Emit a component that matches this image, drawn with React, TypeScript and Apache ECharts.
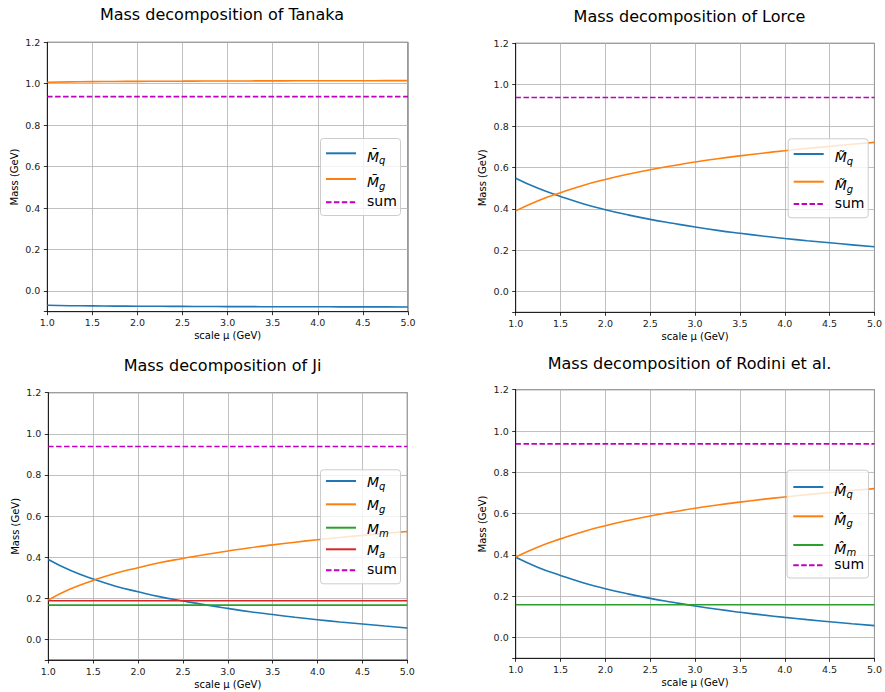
import React, { useEffect, useRef } from 'react';
import * as echarts from 'echarts';

const FONT = 'DejaVu Sans';

// scale mu (GeV)
const MU = [1.0, 1.25, 1.5, 1.75, 2.0, 2.25, 2.5, 2.75, 3.0, 3.25, 3.5, 3.75, 4.0, 4.25, 4.5, 4.75, 5.0];

// Tanaka
const tanakaMq = [-0.069, -0.071, -0.072, -0.073, -0.0735, -0.074, -0.0745, -0.075, -0.0753, -0.0756, -0.0759, -0.0761, -0.0763, -0.0765, -0.0767, -0.0769, -0.077];
const tanakaMg = [1.007, 1.009, 1.010, 1.011, 1.0115, 1.012, 1.0125, 1.013, 1.0133, 1.0136, 1.0139, 1.0141, 1.0143, 1.0145, 1.0147, 1.0149, 1.015];
const tanakaSum = [0.938, 0.938, 0.938, 0.938, 0.938, 0.938, 0.938, 0.938, 0.938, 0.938, 0.938, 0.938, 0.938, 0.938, 0.938, 0.938, 0.938];

// Lorce
const lorceMq = [0.548, 0.499, 0.460, 0.425, 0.396, 0.371, 0.349, 0.330, 0.312, 0.296, 0.282, 0.269, 0.257, 0.246, 0.236, 0.226, 0.217];
const lorceMg = [0.390, 0.439, 0.478, 0.513, 0.542, 0.567, 0.589, 0.608, 0.626, 0.642, 0.656, 0.669, 0.681, 0.692, 0.702, 0.712, 0.721];
const lorceSum = [0.938, 0.938, 0.938, 0.938, 0.938, 0.938, 0.938, 0.938, 0.938, 0.938, 0.938, 0.938, 0.938, 0.938, 0.938, 0.938, 0.938];

// Ji
const jiMq = [0.389, 0.335, 0.294, 0.259, 0.232, 0.207, 0.187, 0.168, 0.151, 0.135, 0.121, 0.108, 0.096, 0.085, 0.075, 0.065, 0.056];
const jiMg = [0.192, 0.246, 0.287, 0.322, 0.349, 0.374, 0.394, 0.413, 0.430, 0.446, 0.460, 0.473, 0.485, 0.496, 0.506, 0.516, 0.525];
const jiMm = [0.167, 0.167, 0.167, 0.167, 0.167, 0.167, 0.167, 0.167, 0.167, 0.167, 0.167, 0.167, 0.167, 0.167, 0.167, 0.167, 0.167];
const jiMa = [0.188, 0.188, 0.188, 0.188, 0.188, 0.188, 0.188, 0.188, 0.188, 0.188, 0.188, 0.188, 0.188, 0.188, 0.188, 0.188, 0.188];
const jiSum = [0.938, 0.938, 0.938, 0.938, 0.938, 0.938, 0.938, 0.938, 0.938, 0.938, 0.938, 0.938, 0.938, 0.938, 0.938, 0.938, 0.938];

// Rodini et al.
const rodiniMq = [0.389, 0.340, 0.301, 0.266, 0.237, 0.212, 0.190, 0.171, 0.153, 0.137, 0.123, 0.110, 0.098, 0.087, 0.077, 0.067, 0.058];
const rodiniMg = [0.390, 0.439, 0.478, 0.513, 0.542, 0.567, 0.589, 0.608, 0.626, 0.642, 0.656, 0.669, 0.681, 0.692, 0.702, 0.712, 0.721];
const rodiniMm = [0.159, 0.159, 0.159, 0.159, 0.159, 0.159, 0.159, 0.159, 0.159, 0.159, 0.159, 0.159, 0.159, 0.159, 0.159, 0.159, 0.159];
const rodiniSum = [0.938, 0.938, 0.938, 0.938, 0.938, 0.938, 0.938, 0.938, 0.938, 0.938, 0.938, 0.938, 0.938, 0.938, 0.938, 0.938, 0.938];

const TITLES = ['Mass decomposition of Tanaka', 'Mass decomposition of Lorce', 'Mass decomposition of Ji', 'Mass decomposition of Rodini et al.'];
const X_NAME = 'scale μ (GeV)';
const Y_NAME = 'Mass (GeV)';

const BLUE = '#1f77b4';
const ORANGE = '#ff7f0e';
const GREEN = '#2ca02c';
const RED = '#d62728';
const MAGENTA = '#bf00bf';

type S = { name: string; label: string; color: string; dashed?: boolean; values: number[] };

const PANEL_SERIES: S[][] = [
  [
    { name: 'Tanaka Mq', label: '{bm|M\u0304}{bs|q}', color: BLUE, values: tanakaMq },
    { name: 'Tanaka Mg', label: '{bm|M\u0304}{bs|g}', color: ORANGE, values: tanakaMg },
    { name: 'Tanaka sum', label: '{sum|sum}', color: MAGENTA, dashed: true, values: tanakaSum },
  ],
  [
    { name: 'Lorce Mq', label: '{bm|M\u0303}{bs|q}', color: BLUE, values: lorceMq },
    { name: 'Lorce Mg', label: '{bm|M\u0303}{bs|g}', color: ORANGE, values: lorceMg },
    { name: 'Lorce sum', label: '{sum|sum}', color: MAGENTA, dashed: true, values: lorceSum },
  ],
  [
    { name: 'Ji Mq', label: '{pm|M}{ps|q}', color: BLUE, values: jiMq },
    { name: 'Ji Mg', label: '{pm|M}{ps|g}', color: ORANGE, values: jiMg },
    { name: 'Ji Mm', label: '{pm|M}{ps|m}', color: GREEN, values: jiMm },
    { name: 'Ji Ma', label: '{pm|M}{ps|a}', color: RED, values: jiMa },
    { name: 'Ji sum', label: '{sum|sum}', color: MAGENTA, dashed: true, values: jiSum },
  ],
  [
    { name: 'Rodini Mq', label: '{hm|M\u0302}{hs|q}', color: BLUE, values: rodiniMq },
    { name: 'Rodini Mg', label: '{hm|M\u0302}{hs|g}', color: ORANGE, values: rodiniMg },
    { name: 'Rodini Mm', label: '{hm|M\u0302}{hs|m}', color: GREEN, values: rodiniMm },
    { name: 'Rodini sum', label: '{sum|sum}', color: MAGENTA, dashed: true, values: rodiniSum },
  ],
];

// layout
const GRIDS = [
  { left: 47.3, top: 42.3, width: 360.7, height: 269.4 },
  { left: 515.7, top: 43.3, width: 359.3, height: 269 },
  { left: 48.3, top: 392.7, width: 359, height: 267.3 },
  { left: 515.7, top: 389.7, width: 359.3, height: 268.6 },
];
const TITLE_POS = [
  { x: 222, y: 14.5 },
  { x: 689.5, y: 16 },
  { x: 222.5, y: 365.5 },
  { x: 689.5, y: 363 },
];
// legend frames and the vertical centre of each legend row
const LEGEND_BOX = [
  { x: 320, y: 138, w: 80, h: 77, lineX: 325, rows: [153.3, 179, 202.3] },
  { x: 787.7, y: 138.3, w: 80, h: 79, lineX: 792.7, rows: [154, 181.7, 204] },
  { x: 320, y: 469.3, w: 80, h: 114, lineX: 325, rows: [481, 504.3, 527.7, 549.3, 570.3] },
  { x: 786.5, y: 469.7, w: 81.5, h: 107.8, lineX: 792.3, rows: [487, 516.3, 545, 565.3] },
];
const ITEM_H = 25; // legend row box = 0.8 * ITEM_H = 20px

// rich tokens, 'top' aligned inside a 20px line; offset = text centre below the legend line
const tok = (size: number, italic: boolean, offset: number) => {
  const pt = offset + 9;
  return {
    fontFamily: FONT,
    fontStyle: italic ? 'italic' : 'normal',
    fontSize: size,
    color: '#000',
    height: 2,
    padding: [pt, 0, 18 - pt, 0],
    verticalAlign: 'top',
  };
};
const RICH = {
  bm: tok(14, true, 3.4),
  bs: tok(10, true, 7.5),
  pm: tok(14, true, 1),
  ps: tok(10, true, 5.5),
  hm: tok(14, true, 3.5),
  hs: tok(10, true, 7.5),
  sum: tok(14, false, -0.8),
};

export default function App() {
  const ref = useRef<HTMLDivElement>(null);
  useEffect(() => {
    if (!ref.current) return;
    const chart = echarts.init(ref.current, null, { renderer: 'svg' });

    const labelMap: Record<string, string> = {};
    PANEL_SERIES.forEach((ps) => ps.forEach((s) => (labelMap[s.name] = s.label)));

    const series: any[] = [];
    PANEL_SERIES.forEach((ps, i) => {
      ps.forEach((s) => {
        series.push({
          type: 'line',
          name: s.name,
          xAxisIndex: i,
          yAxisIndex: i,
          data: MU.map((x, k) => [x, s.values[k]]),
          symbol: 'none',
          smooth: true,
          lineStyle: { color: s.color, width: 1.6, type: s.dashed ? [5.5, 2.4] : 'solid' },
          itemStyle: { color: s.color },
          z: 3,
        });
      });
    });

    const legends: any[] = [];
    PANEL_SERIES.forEach((ps, i) => {
      const box = LEGEND_BOX[i];
      ps.forEach((s, k) => {
        legends.push({
          orient: 'vertical',
          left: box.lineX,
          top: box.rows[k] - 0.4 * ITEM_H,
          itemWidth: 30,
          itemHeight: ITEM_H,
          padding: 0,
          selectedMode: false,
          itemStyle: { opacity: 0, borderWidth: 0 },
          data: [s.name],
          formatter: (n: string) => labelMap[n] || n,
          textStyle: { fontFamily: FONT, fontSize: 14, color: '#000', padding: [0, 0, 0, 6], rich: RICH },
          z: 10,
        });
      });
    });

    const frames = LEGEND_BOX.map((b) => ({
      type: 'rect',
      z: 8,
      shape: { x: b.x + 0.5, y: b.y + 0.5, width: b.w, height: b.h, r: 3 },
      style: { fill: 'rgba(255,255,255,0.8)', stroke: '#cccccc', lineWidth: 1 },
    }));

    const titles = TITLES.map((t, i) => ({
      type: 'text',
      x: TITLE_POS[i].x,
      y: TITLE_POS[i].y,
      style: {
        text: t,
        fontSize: 16,
        fontFamily: FONT,
        fill: '#000',
        align: 'center',
        verticalAlign: 'middle',
        textAlign: 'center',
        textVerticalAlign: 'middle',
      },
    }));

    const option: any = {
      animation: false,
      textStyle: { fontFamily: FONT },
      grid: GRIDS.map((g) => ({ ...g, show: true, borderColor: '#000', borderWidth: 0.8, containLabel: false })),
      xAxis: GRIDS.map((_, i) => ({
        type: 'value',
        gridIndex: i,
        min: 1,
        max: 5,
        interval: 0.5,
        name: X_NAME,
        nameLocation: 'middle',
        nameGap: 19,
        nameTextStyle: { fontSize: 10, color: '#000', fontFamily: FONT },
        axisLine: { show: true, onZero: false, lineStyle: { color: '#000', width: 0.8 } },
        axisTick: { show: true, length: 3.5, lineStyle: { color: '#000', width: 0.8 } },
        axisLabel: { fontSize: 9.5, color: '#222', margin: 6, fontFamily: FONT, formatter: (v: number) => v.toFixed(1) },
        splitLine: { show: true, lineStyle: { color: '#b0b0b0', width: 0.8 } },
      })),
      yAxis: GRIDS.map((_, i) => ({
        type: 'value',
        gridIndex: i,
        min: -0.1,
        max: 1.2,
        splitNumber: 6,
        minInterval: 0.2,
        maxInterval: 0.2,
        name: Y_NAME,
        nameLocation: 'middle',
        nameGap: 28,
        nameRotate: 90,
        nameTextStyle: { fontSize: 10, color: '#000', fontFamily: FONT },
        axisLine: { show: true, onZero: false, lineStyle: { color: '#000', width: 0.8 } },
        axisTick: { show: true, length: 3.5, lineStyle: { color: '#000', width: 0.8 } },
        axisLabel: {
          fontSize: 9.5,
          color: '#222',
          margin: 7,
          fontFamily: FONT,
          formatter: (v: number) => (Math.abs(v + 0.1) < 1e-6 ? '' : v.toFixed(1)),
        },
        splitLine: { show: true, lineStyle: { color: '#b0b0b0', width: 0.8 } },
      })),
      legend: legends,
      graphic: [...frames, ...titles],
      series,
    };

    chart.setOption(option);
    return () => chart.dispose();
  }, []);

  return <div ref={ref} style={{ position: 'absolute', left: 0, top: 0, width: 885, height: 692 }} />;
}
